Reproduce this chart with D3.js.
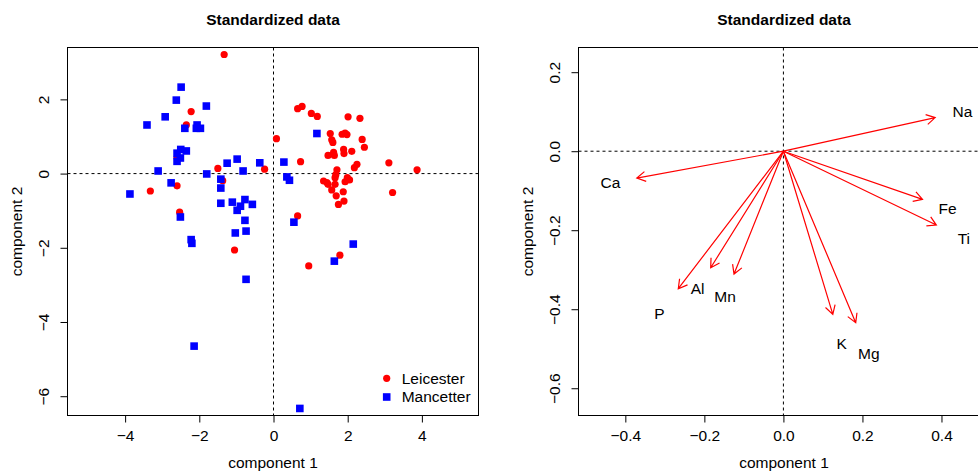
<!DOCTYPE html>
<html>
<head>
<meta charset="utf-8">
<script src="https://cdn.jsdelivr.net/npm/d3@7"></script>
<style>
body { margin: 0; background: #fff; }
svg { display: block; font-family: "Liberation Sans", Arial, Helvetica, sans-serif; }
</style>
</head>
<body>
<svg id="chart" width="978" height="473"></svg>
<script>
// scores on the first two components, by site
var leicesterX = [-1.33, -2.22, -2.35, 0.08, -2.60, -1.50, -0.24, -1.37, -2.60, -3.32, -2.53, -1.05,
	0.65, 0.77, 1.02, 1.18, 2.01, 2.33, 1.53, 1.85, 1.93, 1.98, 1.57, 1.60, 2.39, 2.45, 1.89, 1.90,
	2.11, 1.47, 1.62, 1.64, 0.73, 3.11, 3.87, 2.25, 2.18, 1.71, 1.68, 1.66, 1.99, 2.05, 1.93, 1.35,
	1.47, 1.44, 1.57, 1.66, 1.88, 1.69, 1.90, 1.75, 3.21, 0.65, 1.79, 0.95];
var leicesterY = [3.21, 1.67, 1.31, 0.94, 0.43, 0.14, 0.12, -0.19, -0.33, -0.47, -1.04, -2.06,
	1.75, 1.81, 1.62, 1.54, 1.53, 1.49, 1.08, 1.06, 1.09, 1.05, 0.91, 0.84, 0.92, 0.71, 0.65, 0.54,
	0.60, 0.49, 0.57, 0.49, 0.32, 0.29, 0.10, 0.25, 0.16, 0.10, -0.03, -0.11, -0.11, -0.17, -0.22, -0.20,
	-0.29, -0.24, -0.44, -0.29, -0.49, -0.60, -0.74, -0.83, -0.51, -1.14, -2.20, -2.49];
var mancetterX = [-2.49, -2.62, -1.81, -2.92, -3.41, -2.39, -2.06, -2.08, -1.97, -2.50, -2.35, -2.60,
	-2.51, -2.60, -3.11, -1.80, -1.25, -0.98, -0.37, -0.82, -1.42, -1.42, -2.76, -3.87, -1.42, -1.11,
	-0.77, -0.89, -0.57, -0.98, -2.51, -0.77, -1.03, -0.74, -2.22, -2.20, -0.74, -2.14, 1.17, 0.28,
	0.36, 0.43, 0.55, 2.15, 1.64, 0.71];
var mancetterY = [2.33, 1.98, 1.82, 1.53, 1.31, 1.22, 1.31, 1.22, 1.22, 0.65, 0.61, 0.55,
	0.42, 0.33, 0.07, -0.01, 0.28, 0.39, 0.29, 0.07, -0.15, -0.39, -0.25, -0.55, -0.80, -0.77,
	-0.70, -0.88, -0.83, -0.99, -1.17, -1.26, -1.60, -1.55, -1.78, -1.88, -2.85, -4.65, 1.08, 0.31,
	-0.09, -0.18, -1.31, -1.90, -2.36, -6.33];

// loadings of the elements
var elements = ["Al", "Fe", "Mg", "Ca", "Na", "K", "Ti", "P", "Mn"];
var load1 = [-0.184, 0.352, 0.183, -0.371, 0.384, 0.125, 0.387, -0.266, -0.125];
var load2 = [-0.295, -0.122, -0.434, -0.068, 0.085, -0.413, -0.187, -0.348, -0.311];

var scoreTicksX = [-4, -2, 0, 2, 4];
var scoreTicksY = [-6, -4, -2, 0, 2];
var loadTicksX = [-0.4, -0.2, 0, 0.2, 0.4];
var loadTicksY = [-0.6, -0.4, -0.2, 0, 0.2];
var groups = ["Leicester", "Mancetter"];
var plotTitle = "Standardized data";
var xTitle = "component 1";
var yTitle = "component 2";

var svg = d3.select('#chart');
var fs = '15.5px';
var top_y = 47.5, bottom_y = 415.5;

function drawFrame(x, y, xticks, yticks, fmt) {
	var x0 = x.range()[0], x1 = x.range()[1];
	var g = svg.append('g');

	g.append('line')
		.attr('x1', x(0)).attr('x2', x(0))
		.attr('y1', top_y).attr('y2', bottom_y)
		.style('stroke', 'black')
		.style('stroke-dasharray', '3,3');
	g.append('line')
		.attr('x1', x0).attr('x2', x1)
		.attr('y1', y(0)).attr('y2', y(0))
		.style('stroke', 'black')
		.style('stroke-dasharray', '3,3');

	g.append('rect')
		.attr('x', x0).attr('y', top_y)
		.attr('width', x1 - x0).attr('height', bottom_y - top_y)
		.style('fill', 'none')
		.style('stroke', 'black');

	var gx = g.append('g')
		.attr('transform', 'translate(0,' + bottom_y + ')')
		.call(d3.axisBottom(x).tickValues(xticks).tickSize(7).tickPadding(7.5).tickFormat(fmt));
	gx.select('.domain').remove();
	gx.append('line')
		.attr('x1', x(xticks[0])).attr('x2', x(xticks[xticks.length - 1]))
		.style('stroke', 'black');
	gx.attr('font-family', null).attr('font-size', fs);

	var gy = g.append('g')
		.attr('transform', 'translate(' + x0 + ',0)')
		.call(d3.axisLeft(y).tickValues(yticks).tickSize(7).tickFormat(fmt));
	gy.select('.domain').remove();
	gy.append('line')
		.attr('y1', y(yticks[0])).attr('y2', y(yticks[yticks.length - 1]))
		.style('stroke', 'black');
	gy.attr('font-family', null).attr('font-size', fs);
	gy.selectAll('.tick text')
		.attr('x', 0)
		.attr('dy', '0.35em')
		.attr('text-anchor', 'middle')
		.attr('transform', 'translate(-23.5,0) rotate(-90)');

	var cx = (x0 + x1) / 2;
	g.append('text')
		.attr('x', cx).attr('y', 25)
		.attr('text-anchor', 'middle')
		.style('font-weight', 'bold')
		.style('font-size', fs)
		.text(plotTitle);
	g.append('text')
		.attr('x', cx).attr('y', 467.5)
		.attr('text-anchor', 'middle')
		.style('font-size', fs)
		.text(xTitle);
	g.append('text')
		.attr('transform', 'translate(' + (x0 - 51) + ',' + (top_y + bottom_y) / 2 + ') rotate(-90)')
		.attr('dy', '0.35em')
		.attr('text-anchor', 'middle')
		.style('font-size', fs)
		.text(yTitle);
	return g;
}

// left panel: scores
var xS = d3.scaleLinear().domain([-5.553, 5.526]).range([67.5, 478.5]);
var yS = d3.scaleLinear().domain([3.398, -6.520]).range([top_y, bottom_y]);
drawFrame(xS, yS, scoreTicksX, scoreTicksY, d3.format('d'));

var sq = 7.6;
svg.append('g').selectAll('circle')
	.data(d3.range(leicesterX.length))
	.join('circle')
	.attr('cx', function(i) { return xS(leicesterX[i]); })
	.attr('cy', function(i) { return yS(leicesterY[i]); })
	.attr('r', 3.6)
	.style('fill', 'red');
svg.append('g').selectAll('rect')
	.data(d3.range(mancetterX.length))
	.join('rect')
	.attr('x', function(i) { return xS(mancetterX[i]) - sq / 2; })
	.attr('y', function(i) { return yS(mancetterY[i]) - sq / 2; })
	.attr('width', sq).attr('height', sq)
	.style('fill', 'blue');

// legend
var lg = svg.append('g').attr('transform', 'translate(386.7,378.3)');
lg.append('circle').attr('cx', 0).attr('cy', 0).attr('r', 3.6).style('fill', 'red');
lg.append('rect').attr('x', -sq / 2).attr('y', 18.7 - sq / 2).attr('width', sq).attr('height', sq).style('fill', 'blue');
lg.selectAll('text')
	.data(groups)
	.join('text')
	.attr('x', 15)
	.attr('y', function(d, i) { return i * 18.7; })
	.attr('dy', '0.35em')
	.style('font-size', fs)
	.text(function(d) { return d; });

// right panel: loadings
var xL = d3.scaleLinear().domain([-0.5185, 0.5215]).range([578.5, 989.5]);
var yL = d3.scaleLinear().domain([0.2625, -0.6690]).range([top_y, bottom_y]);
drawFrame(xL, yL, loadTicksX, loadTicksY, d3.format('.1f'));

var headLen = 10;
var arr = svg.append('g');
elements.forEach(function(name, i) {
	var ox = xL(0), oy = yL(0);
	var tx = xL(load1[i]), ty = yL(load2[i]);
	var a = Math.atan2(ty - oy, tx - ox);
	var h1 = {x: tx - headLen * Math.cos(a - Math.PI / 6), y: ty - headLen * Math.sin(a - Math.PI / 6)};
	var h2 = {x: tx - headLen * Math.cos(a + Math.PI / 6), y: ty - headLen * Math.sin(a + Math.PI / 6)};
	arr.append('path')
		.attr('d', 'M' + ox + ',' + oy + 'L' + tx + ',' + ty
			+ 'M' + h1.x + ',' + h1.y + 'L' + tx + ',' + ty + 'L' + h2.x + ',' + h2.y)
		.style('fill', 'none')
		.style('stroke', 'red')
		.style('stroke-width', '1.2px');
	arr.append('text')
		.attr('x', xL(load1[i] * 1.18))
		.attr('y', yL(load2[i] * 1.18))
		.attr('dy', '0.35em')
		.attr('text-anchor', 'middle')
		.style('font-size', fs)
		.text(name);
});
</script>
</body>
</html>
